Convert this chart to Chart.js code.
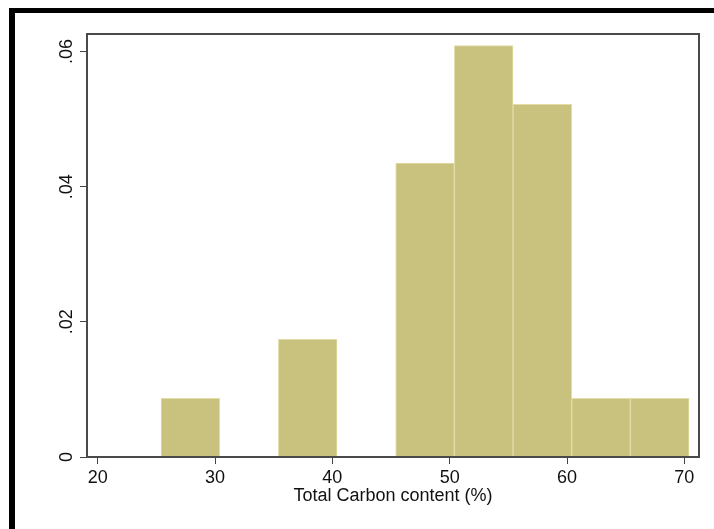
<!DOCTYPE html>
<html>
<head>
<meta charset="utf-8">
<script src="https://cdn.jsdelivr.net/npm/chart.js@4/dist/chart.umd.min.js"></script>
<style>
    body { margin: 0; background: #fff; }
    #wrap { position: relative; width: 714px; height: 529px; overflow: hidden; }
    #frame {
        position: absolute; left: 9px; top: 8px; right: -10px; bottom: -10px;
        border-left: 6px solid #000; border-top: 5px solid #000;
        pointer-events: none;
    }
</style>
</head>
<body>
<div id="wrap">
    <canvas id="hist" width="714" height="529"></canvas>
    <div id="frame"></div>
</div>
<script>
// histogram bins (start of each bin, width 5) and their densities
const binStarts = [25.4, 35.4, 45.4, 50.4, 55.4, 60.4, 65.4];
const binWidth = 5;
const densities = [0.0087, 0.0174, 0.0435, 0.0609, 0.0522, 0.0087, 0.0087];

const xTicks = [20, 30, 40, 50, 60, 70];
const yTicks = [0, 0.02, 0.04, 0.06];
const yTickLabels = ['0', '.02', '.04', '.06'];
const xTitle = 'Total Carbon content (%)';

const FONT = '"Liberation Sans", Arial, sans-serif';

// box around the plot area + rotated y labels (Stata style)
const stataBits = {
    id: 'stataBits',
    afterDraw(chart) {
        const ctx = chart.ctx;
        const a = chart.chartArea;
        ctx.save();
        ctx.strokeStyle = '#4a4a4a';
        ctx.lineWidth = 2;
        ctx.strokeRect(a.left, a.top, a.right - a.left, a.bottom - a.top);

        const ys = chart.scales.y;
        ctx.fillStyle = '#111';
        ctx.font = '18px ' + FONT;
        ctx.textAlign = 'center';
        ctx.textBaseline = 'alphabetic';
        yTicks.forEach((v, i) => {
            const py = ys.getPixelForValue(v);
            ctx.save();
            ctx.translate(72, py);
            ctx.rotate(-Math.PI / 2);
            ctx.fillText(yTickLabels[i], 0, 0);
            ctx.restore();
        });
        ctx.restore();
    }
};

new Chart(document.getElementById('hist'), {
    type: 'bar',
    data: {
        datasets: [{
            data: binStarts.map((s, i) => ({ x: s + binWidth / 2, y: densities[i] })),
            backgroundColor: '#c9c27f',
            borderColor: '#e2dda8',
            borderWidth: 1,
            borderSkipped: 'bottom',
            barPercentage: 1,
            categoryPercentage: 1
        }]
    },
    options: {
        responsive: false,
        animation: false,
        devicePixelRatio: 1,
        layout: { padding: { left: 0, top: 34, right: 15, bottom: 0 } },
        plugins: { legend: { display: false }, tooltip: { enabled: false } },
        scales: {
            x: {
                type: 'linear',
                offset: false,
                min: 19.09,
                max: 71.25,
                afterBuildTicks: (s) => { s.ticks = xTicks.map(v => ({ value: v })); },
                afterFit: (s) => { s.height = 72; },
                grid: { offset: false, drawOnChartArea: false, tickLength: 7, tickColor: '#444', tickWidth: 1 },
                border: { display: false },
                ticks: { color: '#111', font: { family: FONT, size: 18 }, padding: 3, maxRotation: 0 },
                title: { display: true, text: xTitle, color: '#111', font: { family: FONT, size: 18 }, padding: { top: 0, bottom: 22 } }
            },
            y: {
                min: 0,
                max: 0.0626,
                afterBuildTicks: (s) => { s.ticks = yTicks.map(v => ({ value: v })); },
                afterFit: (s) => { s.width = 87; },
                grid: { drawOnChartArea: false, tickLength: 7, tickColor: '#444', tickWidth: 1 },
                border: { display: false },
                ticks: { display: false }
            }
        }
    },
    plugins: [stataBits]
});
</script>
</body>
</html>
